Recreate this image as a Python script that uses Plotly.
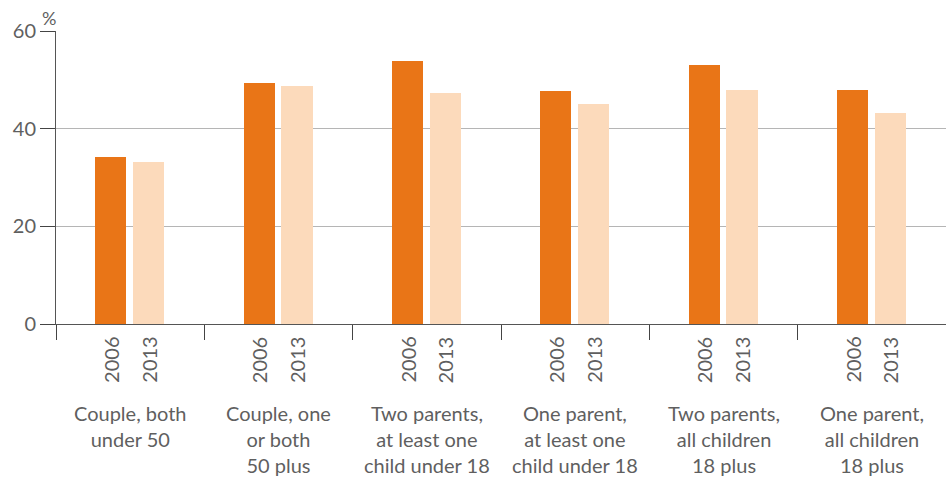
import plotly.graph_objects as go

categories = [
    "Couple, both<br>under 50",
    "Couple, one<br>or both<br>50 plus",
    "Two parents,<br>at least one<br>child under 18",
    "One parent,<br>at least one<br>child under 18",
    "Two parents,<br>all children<br>18 plus",
    "One parent,<br>all children<br>18 plus",
]
years = ["2006", "2013"]
values_2006 = [34.2, 49.3, 53.8, 47.7, 53.0, 47.9]
values_2013 = [33.2, 48.7, 47.3, 45.0, 47.9, 43.2]
y_ticks = [0, 20, 40, 60]

colors = {"2006": "#E97517", "2013": "#FCDABB"}
offsets = {"2006": -0.13, "2013": 0.125}
series = {"2006": values_2006, "2013": values_2013}

FONT = "Lato, 'Open Sans', sans-serif"
TEXT = "#5f5f5f"

fig = go.Figure()
centers = [i + 0.5 for i in range(len(categories))]
for yr in years:
    fig.add_trace(go.Bar(
        x=[c + offsets[yr] for c in centers],
        y=series[yr],
        width=0.21,
        marker=dict(color=colors[yr], line=dict(width=0)),
        name=yr,
        showlegend=False,
        hoverinfo="y",
    ))

# plot area geometry (pixels) used to place labels below the axis
plot_h = 479 - 31 - 155

annotations = []
for c in centers:
    for yr in years:
        annotations.append(dict(
            x=c + offsets[yr], xref="x",
            y=(324 - 360) / plot_h, yref="paper",
            text=yr, textangle=-90, showarrow=False,
            font=dict(family=FONT, size=20, color=TEXT),
            xanchor="center", yanchor="middle",
        ))
for c, cat in zip(centers, categories):
    annotations.append(dict(
        x=c, xref="x",
        y=(324 - 399) / plot_h, yref="paper",
        text=cat, showarrow=False, align="center",
        font=dict(family=FONT, size=20, color=TEXT),
        xanchor="center", yanchor="top",
    ))
annotations.append(dict(
    x=-0.018, xref="paper", y=1.0, yref="paper",
    text="%", showarrow=False,
    font=dict(family=FONT, size=18, color=TEXT),
    xanchor="left", yanchor="bottom",
))

fig.update_layout(
    width=946, height=479,
    margin=dict(l=56, r=0, t=31, b=155),
    plot_bgcolor="white", paper_bgcolor="white",
    bargap=0,
    annotations=annotations,
    xaxis=dict(
        range=[0, 6], tickvals=list(range(7)), showticklabels=False,
        ticks="outside", ticklen=15, tickcolor="#444", tickwidth=1,
        showgrid=False, zeroline=False,
        showline=True, linecolor="#555", linewidth=1,
    ),
    yaxis=dict(
        range=[0, 60], tickvals=y_ticks,
        ticks="outside", ticklen=15, tickcolor="#444", tickwidth=1,
        showgrid=True, gridcolor="#b5b5b5", gridwidth=1,
        zeroline=False, showline=True, linecolor="#555", linewidth=1,
        tickfont=dict(family=FONT, size=20, color=TEXT),
    ),
)

fig.write_html("out.html")
